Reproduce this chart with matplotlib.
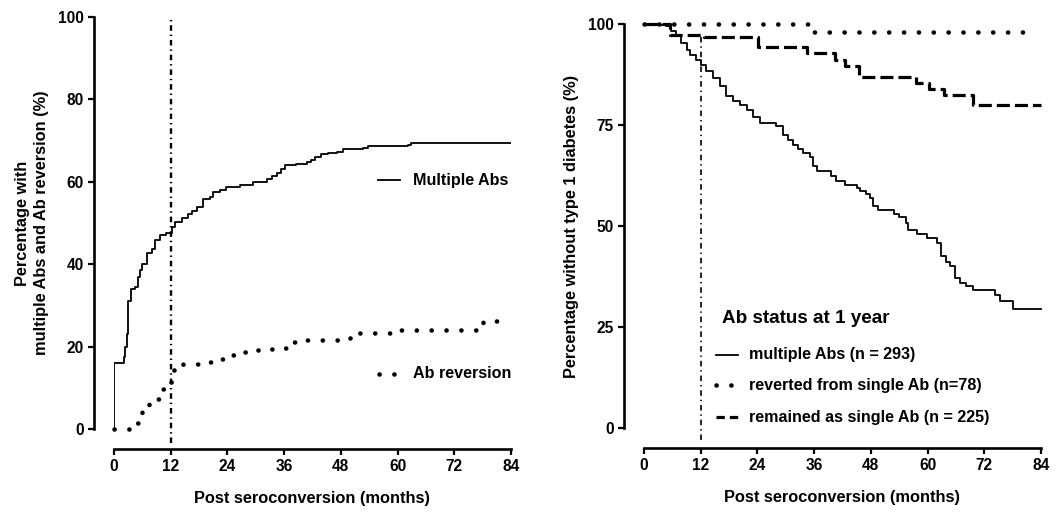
import matplotlib
matplotlib.use("Agg")
import matplotlib.pyplot as plt

plt.rcParams['font.family'] = ['Liberation Sans', 'DejaVu Sans']
plt.rcParams['font.weight'] = 'bold'
plt.rcParams['lines.scale_dashes'] = False

# Panel A: cumulative percentage with multiple Abs / Ab reversion
multi_t = [0, 0, 1.6, 2.1, 2.4, 2.7, 3.0, 3.5, 4.4, 5.1, 5.5, 5.9, 6.9, 8.0, 8.7, 9.7,
           11.1, 12.2, 12.9, 14.3, 15.7, 16.6, 17.5, 18.9, 20.3, 21.0, 22.4, 23.8, 26.7,
           29.5, 32.3, 33.4, 34.4, 35.3, 36.2, 38.6, 40.8, 41.7, 42.5, 43.9, 45.3, 47.1,
           48.5, 52.7, 53.8, 62.3, 62.8, 84]
multi_v = [0, 16, 16, 17.5, 20, 23, 31, 34, 34.5, 37, 38.5, 40, 42.6, 43.8, 45.8, 47,
           47.5, 49, 50.3, 51.1, 52.3, 53, 53.9, 55.8, 56.3, 57.6, 58.1, 58.8, 59.3,
           60, 60.8, 61.5, 62.2, 63, 64, 64.2, 64.8, 65.4, 66, 66.7, 67.1, 67.3,
           67.9, 68.2, 68.7, 68.9, 69.4, 69.4]

rev_t = [0, 4.6, 5.9, 7.5, 9.5, 11.5, 12.5, 14.5, 18, 21, 24, 26.5, 29.5, 32, 35, 37,
         40, 49, 51.5, 59, 78, 84]
rev_v = [0, 1.4, 5, 7.4, 9.6, 11.5, 14.3, 15.7, 16.3, 17, 18, 18.7, 19.2, 19.4, 19.7,
         21.2, 21.7, 22.2, 23.2, 24, 26.2, 26.2]

# Panel B: percentage without type 1 diabetes by Ab status at 1 year
t1d_multi_t = [0, 3.3, 4.7, 5.8, 6.8, 7.9, 9.0, 9.7, 11.1, 12.1, 13.2, 14.6, 16.0, 17.4,
               18.8, 20.3, 21.7, 23.1, 24.5, 28.0, 29.4, 30.5, 31.5, 32.6, 33.7, 35.1,
               35.8, 36.5, 39.5, 40.7, 42.5, 45.0, 45.7, 47.0, 47.8, 48.5, 49.5, 53.0,
               54.0, 55.5, 55.9, 57.7, 59.8, 61.9, 62.9, 63.8, 64.7, 65.8, 66.8, 68.2,
               69.6, 74.2, 75.3, 78.0, 84]
t1d_multi_v = [100, 99.7, 99.4, 98.2, 97, 95.3, 93.6, 92.4, 91.2, 89.9, 88.3, 86.6, 84.6,
               82.1, 80.9, 80, 78.8, 77.1, 75.5, 74.7, 72.6, 71.3, 70.1, 69.1, 68.1,
               67.2, 64.8, 63.5, 62.3, 61.1, 60.2, 59.3, 58.6, 57.8, 56.9, 54.9, 54,
               52.9, 52.2, 50.7, 49.1, 47.9, 47, 45.8, 42.5, 41.2, 40, 37.1, 35.9, 35.1,
               34.2, 33, 31.4, 29.5, 29.5]

t1d_rev_t = [0, 36, 82]
t1d_rev_v = [100, 98, 98]

t1d_single_t = [0, 5.5, 12.8, 24.2, 34.4, 40.5, 42.5, 45.5, 57.5, 60.3, 63.5, 69.7, 84]
t1d_single_v = [100, 97.3, 96.7, 94.4, 92.9, 91.1, 89.5, 86.8, 85.4, 83.9, 82.5, 80.0, 80.0]

x_ticks = [0, 12, 24, 36, 48, 60, 72, 84]
yticks_a = [0, 20, 40, 60, 80, 100]
yticks_b = [0, 25, 50, 75, 100]

DOT = (0, (0.1, 10.6))
DASH = (0, (9.4, 3.6))
DASHDOT = (0, (4.0, 2.8, 1.0, 2.8))

TICK_FS = 11.2
LABEL_FS = 11.8
LEG_FS = 11.6

fig = plt.figure(figsize=(10.61, 5.15), dpi=100)
ax1 = fig.add_axes([114 / 1061, 1 - 429 / 515, 397 / 1061, 412 / 515])
ax2 = fig.add_axes([644 / 1061, 1 - 428 / 515, 397 / 1061, 404 / 515])


def style_axes(ax, yticks):
    ax.set_xlim(0, 84)
    ax.set_ylim(0, 100)
    for s in ['top', 'right']:
        ax.spines[s].set_visible(False)
    for s in ['left', 'bottom']:
        ax.spines[s].set_position(('outward', 14.4))
        ax.spines[s].set_linewidth(1.9)
    ax.spines['bottom'].set_bounds(0, 84)
    ax.spines['left'].set_bounds(0, 100)
    ax.set_xticks(x_ticks)
    ax.set_yticks(yticks)
    ax.tick_params(width=1.6, length=4.5, labelsize=TICK_FS, pad=3)
    for lab in ax.get_xticklabels() + ax.get_yticklabels():
        lab.set_fontweight('bold')
    ax.set_xlabel('Post seroconversion (months)', fontsize=LABEL_FS, fontweight='bold',
                  labelpad=12)


style_axes(ax1, yticks_a)
style_axes(ax2, yticks_b)

# Panel A curves
ax1.plot(multi_t, multi_v, drawstyle='steps-post', color='black', lw=1.3)
ax1.plot(rev_t, rev_v, drawstyle='steps-post', color='black', lw=3.3,
         linestyle=DOT, dash_capstyle='round', clip_on=False)
ax1.plot([12, 12], [-3.5, 100], color='black', lw=1.7, linestyle=DASHDOT, clip_on=False)
ax1.set_ylabel('Percentage with\nmultiple Abs and Ab reversion (%)', fontsize=LABEL_FS,
               fontweight='bold', labelpad=6, linespacing=1.35)

ax1.plot([55.9, 60.5], [60.4, 60.4], color='black', lw=1.3, clip_on=False)
ax1.text(63.3, 60.4, 'Multiple Abs', fontsize=LEG_FS, fontweight='bold', va='center')
ax1.plot([56.0, 60.5], [13.4, 13.4], color='black', lw=3.3, linestyle=DOT,
         dash_capstyle='round', clip_on=False)
ax1.text(63.3, 13.4, 'Ab reversion', fontsize=LEG_FS, fontweight='bold', va='center')

# Panel B curves
ax2.plot(t1d_multi_t, t1d_multi_v, drawstyle='steps-post', color='black', lw=1.3,
         clip_on=False)
ax2.plot(t1d_rev_t, t1d_rev_v, drawstyle='steps-post', color='black', lw=3.3,
         linestyle=DOT, dash_capstyle='round', clip_on=False)
ax2.plot(t1d_single_t, t1d_single_v, drawstyle='steps-post', color='black', lw=2.3,
         linestyle=DASH, clip_on=False)
ax2.plot([12, 12], [-3, 97.3], color='black', lw=1.2, linestyle=DASHDOT, clip_on=False)
ax2.set_ylabel('Percentage without type 1 diabetes (%)', fontsize=LABEL_FS,
               fontweight='bold', labelpad=6)

ax2.text(16.5, 27.0, 'Ab status at 1 year', fontsize=13.6, fontweight='bold', va='center')
legend_rows = [
    ('multiple Abs (n = 293)', dict(lw=1.3, linestyle='-'), 18.1),
    ('reverted from single Ab (n=78)', dict(lw=3.3, linestyle=DOT, dash_capstyle='round'), 10.6),
    ('remained as single Ab (n = 225)', dict(lw=2.3, linestyle=(0, (6.0, 3.6))), 2.7),
]
for label, kw, yy in legend_rows:
    ax2.plot([15.3, 19.9], [yy, yy], color='black', clip_on=False, **kw)
    ax2.text(22.2, yy, label, fontsize=LEG_FS, fontweight='bold', va='center')

fig.savefig('out.png', dpi=100, facecolor='white')
